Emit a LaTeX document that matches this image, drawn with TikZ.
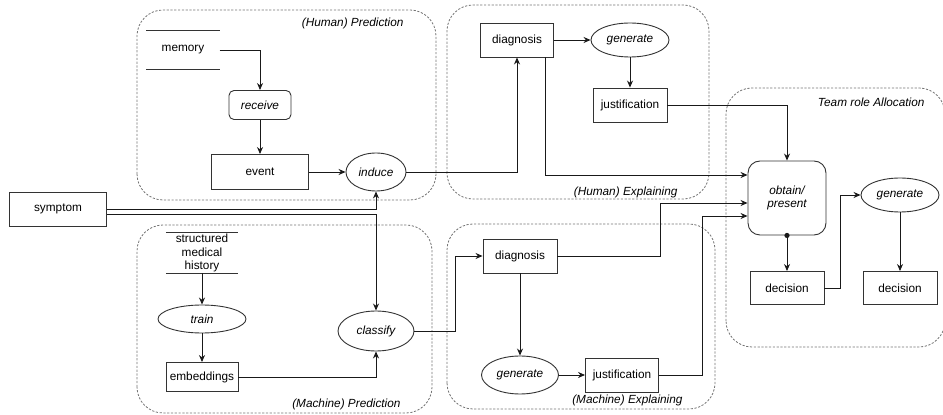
\documentclass[tikz,border=0pt]{standalone}
\usepackage{fontspec}
\setmainfont{Liberation Sans}
\usetikzlibrary{arrows.meta,shapes.geometric}

\newcommand{\dfont}{\fontsize{11.8}{13.5}\selectfont}

\tikzset{
  every node/.style={font=\dfont},
  box/.style={draw=black!80, line width=0.9pt, inner sep=0pt, minimum height=34pt},
  oval/.style={ellipse, draw=black!80, line width=0.9pt, inner sep=0pt, font=\dfont\itshape},
  act/.style={draw=black!80, line width=0.9pt, inner sep=0pt, font=\dfont\itshape},
  store/.style={inner sep=0pt, align=center},
  storeline/.style={line width=0.9pt, black!80},
  group/.style={draw=black!55, dash pattern=on 2.2pt off 1.6pt, line width=0.8pt, rounded corners=26pt},
  grouplabel/.style={anchor=east, font=\dfont\itshape},
  arr/.style={-{Stealth[length=7pt,width=6pt]}, line width=0.9pt, black!90},
}

\begin{document}
\begin{tikzpicture}[x=1pt,y=1pt]
\useasboundingbox (0,0) rectangle (943,415);

% Groups
\draw[group] (137,215) rectangle (436,405);
\node[grouplabel] at (407,392) {(Human) Prediction};
\draw[group] (447,216) rectangle (709,410);
\node[grouplabel] at (681,223) {(Human) Explaining};
\draw[group] (137,2) rectangle (432,190);
\node[grouplabel] at (404,11) {(Machine) Prediction};
\draw[group] (447,6) rectangle (715,191);
\node[grouplabel] at (686,15) {(Machine) Explaining};
\draw[group] (726,68) rectangle (945,327);
\node[grouplabel] at (928,313) {Team role Allocation};

% Input
\node[box, minimum width=97pt] (symptom) at (58,206) {symptom};

% Human prediction
\node[store, minimum width=73pt, minimum height=39pt] (memory) at (183,365) {memory};
\draw[storeline] (memory.north west) -- (memory.north east);
\draw[storeline] (memory.south west) -- (memory.south east);
\node[act, rounded corners=5pt, minimum width=62pt, minimum height=29pt] (receive) at (260,310) {receive};
\node[box, minimum width=97pt, minimum height=35pt] (event) at (260,243) {event};
\node[oval, minimum width=60pt, minimum height=38pt] (induce) at (376,243) {induce};

% Human explaining
\node[box, minimum width=73pt] (hdiag) at (517,375) {diagnosis};
\node[oval, minimum width=78pt, minimum height=34pt] (hgen) at (630,375) {generate};
\node[box, minimum width=74pt] (hjust) at (630,310) {justification};

% Machine prediction
\node[store, minimum width=72pt, minimum height=40pt] (smh) at (202,162) {structured\\medical\\history};
\draw[storeline] (smh.north west) -- (smh.north east);
\draw[storeline] (smh.south west) -- (smh.south east);
\node[oval, minimum width=88pt, minimum height=28pt] (train) at (202,96) {train};
\node[box, minimum width=72pt, minimum height=29pt] (emb) at (202,38) {embeddings};
\node[oval, minimum width=76pt, minimum height=40pt] (classify) at (376,84) {classify};

% Machine explaining
\node[box, minimum width=74pt] (mdiag) at (520,159) {diagnosis};
\node[oval, minimum width=77pt, minimum height=38pt] (mgen) at (520,40) {generate};
\node[box, minimum width=73pt] (mjust) at (622,40) {justification};

% Team role allocation
\node[act, rounded corners=12pt, minimum width=78pt, minimum height=74pt, align=center] (obtain) at (787,217) {obtain/\\present};
\node[box, minimum width=74pt, minimum height=33pt] (dec1) at (787,127) {decision};
\node[oval, minimum width=78pt, minimum height=34pt] (gen2) at (900,220) {generate};
\node[box, minimum width=74pt, minimum height=33pt] (dec2) at (900,127) {decision};

% Human side connectors
\draw[arr] (memory.east) -| (receive.north);
\draw[arr] (receive) -- (event);
\draw[arr] (event) -- (induce);
\draw[arr] (induce.east) -| (hdiag.south);
\draw[arr] (hdiag) -- (hgen);
\draw[arr] (hgen) -- (hjust);
\draw[arr] (hjust.east) -| (obtain.north);
\draw[arr] ([xshift=-9pt]hdiag.south east) |- ([yshift=23pt]obtain.west);

% Machine side connectors
\draw[arr] (symptom.east) -| (induce.south);
\draw[arr] ([yshift=-5pt]symptom.east) -| (classify.north);
\draw[arr] (smh) -- (train);
\draw[arr] (train) -- (emb);
\draw[arr] (emb.east) -| (classify.south);
\draw[arr] (classify.east) -| ([xshift=-27pt]mdiag.west) -- (mdiag.west);
\draw[arr] (mdiag) -- (mgen);
\draw[arr] (mgen) -- (mjust);
\draw[arr] (mdiag.east) -| ([xshift=-87pt,yshift=-5pt]obtain.west) -- ([yshift=-5pt]obtain.west);
\draw[arr] (mjust.east) -| ([xshift=-45pt,yshift=-18pt]obtain.west) -- ([yshift=-18pt]obtain.west);

% Allocation connectors
\draw[arr] (obtain) -- (dec1);
\fill[black!90] (obtain.south) circle (2.6pt);
\draw[arr] (dec1.east) -| ([xshift=-20pt]gen2.west) -- (gen2.west);
\draw[arr] (gen2) -- (dec2);

\end{tikzpicture}
\end{document}
